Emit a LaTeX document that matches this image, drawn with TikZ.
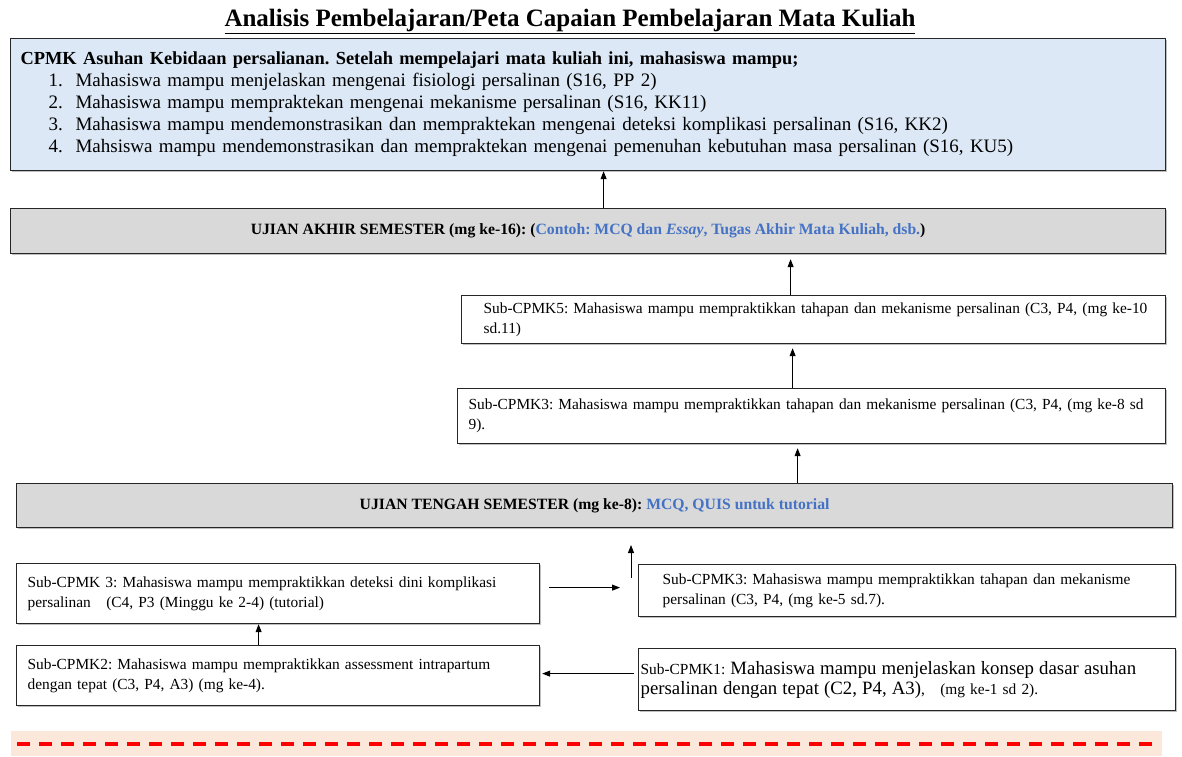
\documentclass[tikz,border=0pt]{standalone}
\usepackage{fontspec}
\setmainfont{Liberation Serif}
\usetikzlibrary{arrows.meta,shadows}

\definecolor{cpmkblue}{HTML}{DCE8F6}
\definecolor{boxgray}{HTML}{D9D9D9}
\definecolor{linkblue}{HTML}{4472C4}
\definecolor{notepeach}{HTML}{FCE8DA}

\tikzset{
  box/.style={draw=black!85, line width=1.2pt, anchor=north west, align=left, fill=white,
    inner xsep=2pt, drop shadow={shadow xshift=1pt, shadow yshift=-1.5pt, opacity=0.5, fill=black!50}},
  subbox/.style={box, font=\frenchspacing\fontsize{15.4}{20}\selectfont},
  exambox/.style={box, fill=boxgray, align=center, font=\frenchspacing\bfseries\fontsize{15.7}{18}\selectfont},
  arr/.style={-{Triangle[width=6pt,length=8pt]}, line width=0.9pt}
}

\begin{document}
\begin{tikzpicture}[x=1pt,y=-1pt]

% Canvas
\useasboundingbox (0,0) rectangle (1182,756);

% Title
\node[font=\bfseries\fontsize{25}{28}\selectfont] (title) at (570,21)
  {\underline{Analisis Pembelajaran/Peta Capaian Pembelajaran Mata Kuliah}};

% CPMK of the course
\node[box, fill=cpmkblue, minimum width=1155, minimum height=132, inner xsep=10pt,
  text width=1135pt, font=\frenchspacing\fontsize{19}{22}\selectfont] (cpmk) at (10,38)
  {\textbf{\fontsize{18.4}{22}\selectfont CPMK Asuhan Kebidaan persalianan. Setelah mempelajari mata kuliah ini, mahasiswa mampu;}\\
   \hspace*{28pt}\makebox[27pt][l]{1.}Mahasiswa mampu menjelaskan mengenai fisiologi persalinan (S16, PP 2)\\
   \hspace*{28pt}\makebox[27pt][l]{2.}Mahasiswa mampu mempraktekan mengenai mekanisme persalinan (S16, KK11)\\
   \hspace*{28pt}\makebox[27pt][l]{3.}Mahasiswa mampu mendemonstrasikan dan mempraktekan mengenai deteksi komplikasi persalinan (S16, KK2)\\
   \hspace*{28pt}\makebox[27pt][l]{4.}Mahsiswa mampu mendemonstrasikan dan mempraktekan mengenai pemenuhan kebutuhan masa persalinan (S16, KU5)};

% Final exam
\node[exambox, minimum width=1155, minimum height=45] (uas) at (10,208)
  {UJIAN AKHIR SEMESTER (mg ke-16): (\textcolor{linkblue}{Contoh: MCQ dan \textit{Essay}, Tugas Akhir Mata Kuliah, dsb.})};

% Sub-CPMK after midterm
\node[subbox, minimum width=704, minimum height=48, text width=700pt] (s5) at (461,295)
  {\hspace*{20pt}Sub-CPMK5: Mahasiswa mampu mempraktikkan tahapan dan mekanisme persalinan (C3, P4, (mg ke-10\\
   \hspace*{20pt}sd.11)};
\node[subbox, minimum width=708, minimum height=55, text width=704pt] (s3b) at (457,388)
  {\hspace*{9pt}Sub-CPMK3: Mahasiswa mampu mempraktikkan tahapan dan mekanisme persalinan (C3, P4, (mg ke-8 sd\\
   \hspace*{9pt}9).};

% Midterm exam
\node[exambox, minimum width=1156, minimum height=44] (uts) at (16,483)
  {UJIAN TENGAH SEMESTER (mg ke-8): \textcolor{linkblue}{MCQ, QUIS untuk tutorial}};

% Sub-CPMK before midterm
\node[subbox, minimum width=523, minimum height=60, text width=519pt] (c3) at (16,563)
  {\hspace*{9pt}Sub-CPMK 3: Mahasiswa mampu mempraktikkan deteksi dini komplikasi\\
   \hspace*{9pt}persalinan\ \ \ (C4, P3 (Minggu ke 2-4) (tutorial)};
\node[subbox, minimum width=537, minimum height=52, text width=533pt] (s3a) at (638,564)
  {\hspace*{22pt}Sub-CPMK3: Mahasiswa mampu mempraktikkan tahapan dan mekanisme\\
   \hspace*{22pt}persalinan (C3, P4, (mg ke-5 sd.7).};
\node[subbox, minimum width=523, minimum height=60, text width=519pt] (s2) at (16,645)
  {\hspace*{9pt}Sub-CPMK2: Mahasiswa mampu mempraktikkan assessment intrapartum\\
   \hspace*{9pt}dengan tepat (C3, P4, A3) (mg ke-4).};
\node[subbox, minimum width=537, minimum height=62, text width=533pt] (s1) at (638,648)
  {Sub-CPMK1: {\fontsize{18.8}{23}\selectfont Mahasiswa mampu menjelaskan konsep dasar asuhan\\
   persalinan dengan tepat (C2, P4, A3)}, \ \ (mg ke-1 sd 2).};

% Free ends of the stub arrow
\coordinate (stubtail) at (631,578);
\coordinate (stubhead) at (631,545);

% Connectors
\draw[arr] ([xshift=15.5pt]uas.north) -- ([xshift=15.5pt]cpmk.south);
\draw[arr, shorten >=5pt] ([xshift=-23pt]s5.north) -- ([xshift=-23pt]s5.north |- uas.south);
\draw[arr, shorten >=4pt] ([xshift=-19pt]s3b.north) -- ([xshift=-19pt]s3b.north |- s5.south);
\draw[arr, shorten >=4pt] ([xshift=203pt]uts.north) -- ([xshift=203pt]uts.north |- s3b.south);
\draw[arr] (stubtail) -- (stubhead);
\draw[arr, shorten <=9pt, shorten >=18pt] ([yshift=6pt]c3.east) -- ([yshift=6pt]c3.east -| s3a.west);
\draw[arr, shorten <=4pt, shorten >=2pt] ([yshift=6pt]s1.west) -- ([yshift=6pt]s1.west -| s2.east);
\draw[arr] ([xshift=-19.5pt]s2.north) -- ([xshift=-19.5pt]c3.south);

% Note strip at the bottom
\fill[notepeach] (11,731) rectangle (1162,756);
\draw[red, line width=3.5pt, dash pattern=on 13pt off 9pt] (17,744) -- (1158,744);

\end{tikzpicture}
\end{document}
